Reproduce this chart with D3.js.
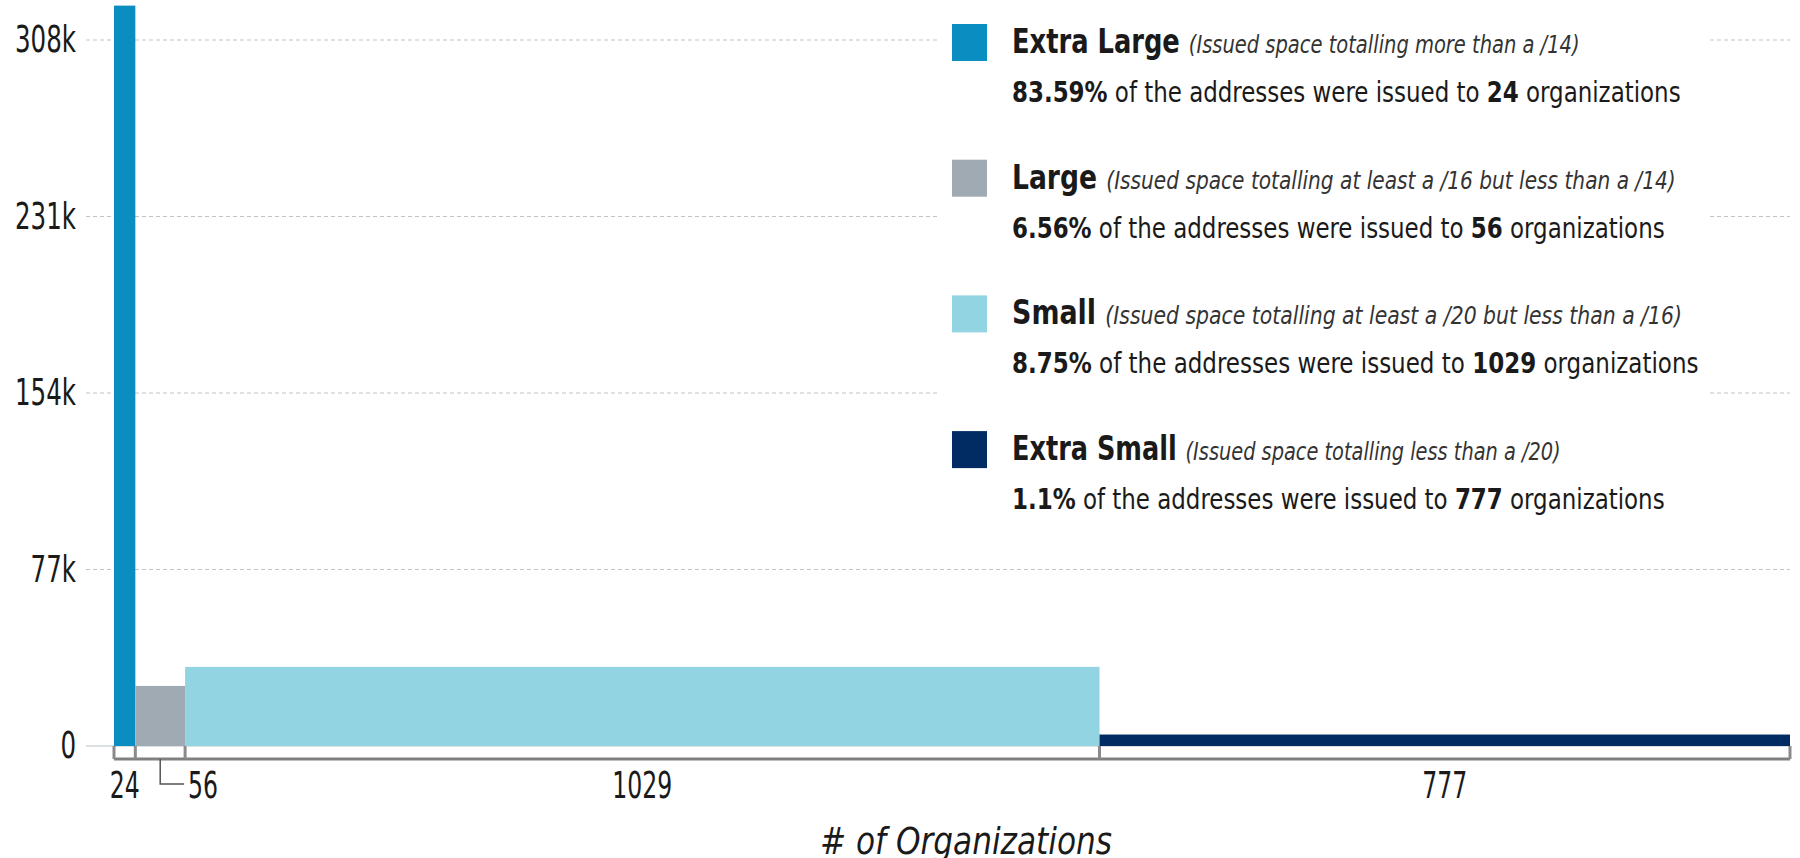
<!DOCTYPE html>
<meta charset="utf-8">
<style>
  body { margin: 0; background: #fff; }
  text { font-family: "DejaVu Sans Condensed", "DejaVu Sans", sans-serif; fill: #1a1a1a; }
  .grid line { stroke: #c4c4c4; stroke-width: 1.2; stroke-dasharray: 4,3; }
</style>
<body>
<script src="https://cdn.jsdelivr.net/npm/d3@7"></script>
<script>
  // data
  var categories = ["Extra Large", "Large", "Small", "Extra Small"];
  var orgCounts = [24, 56, 1029, 777];
  var barValues = [323000, 26200, 34500, 5000];
  var shares = ["83.59%", "6.56%", "8.75%", "1.1%"];
  var descriptions = [
    "(Issued space totalling more than a /14)",
    "(Issued space totalling at least a /16 but less than a /14)",
    "(Issued space totalling at least a /20 but less than a /16)",
    "(Issued space totalling less than a /20)"
  ];
  var yTicks = [0, 77000, 154000, 231000, 308000];
  var colors = ["#0a8dc1", "#a0aab3", "#93d4e2", "#012c63"];

  var width = 1800, height = 858;
  var left = 114, right = 1790, zeroY = 746, topY = 40;

  var svg = d3.select("body").append("svg")
    .attr("width", width)
    .attr("height", height);

  // squeeze a text horizontally so it reads like the condensed face of the original
  function fit(sel, target, tx, ty) {
    sel.attr("x", 0).attr("y", 0);
    var w = sel.node().getComputedTextLength();
    sel.attr("transform", "translate(" + tx + "," + ty + ") scale(" + (target / w) + ",1)");
  }

  // cumulative org counts give the x extent of each bar
  var starts = [];
  var acc = 0;
  orgCounts.forEach(function(c) { starts.push(acc); acc += c; });
  var total = acc;

  var x = d3.scaleLinear().domain([0, total]).range([left, right]);
  var y = d3.scaleLinear().domain([0, 308000]).range([zeroY, topY]);

  var fmt = function(d) { return d === 0 ? "0" : (d / 1000) + "k"; };

  // grid
  var grid = svg.append("g").attr("class", "grid");
  grid.selectAll("line")
    .data(yTicks.filter(function(d) { return d > 0; }))
    .join("line")
    .attr("x1", 86).attr("x2", right)
    .attr("y1", function(d) { return y(d); })
    .attr("y2", function(d) { return y(d); });
  svg.append("line")
    .attr("x1", 86).attr("x2", right)
    .attr("y1", y(0)).attr("y2", y(0))
    .attr("stroke", "#cfd6da").attr("stroke-width", 1.5);

  // y labels
  var yAxis = d3.axisLeft(y).tickValues(yTicks).tickFormat(fmt).tickSize(0).tickPadding(0);
  var yg = svg.append("g").attr("transform", "translate(76,0)").call(yAxis);
  yg.select(".domain").remove();
  yg.attr("font-family", null).attr("font-size", null);
  var yText = yg.selectAll("text").attr("font-size", 37).style("fill", "#1a1a1a");
  var yk = 61 / yText.filter(function(d) { return d === 308000; }).node().getComputedTextLength();
  yText.attr("transform", "scale(" + yk + ",1)");

  // legend backdrop hides the grid behind it
  svg.append("rect")
    .attr("x", 940).attr("y", 0)
    .attr("width", 770).attr("height", 525)
    .attr("fill", "#fff");

  // bars
  svg.selectAll("rect.bar")
    .data(categories)
    .join("rect")
    .attr("class", "bar")
    .attr("x", function(d, i) { return x(starts[i]); })
    .attr("width", function(d, i) { return x(starts[i] + orgCounts[i]) - x(starts[i]); })
    .attr("y", function(d, i) { return y(barValues[i]); })
    .attr("height", function(d, i) { return y(0) - y(barValues[i]); })
    .attr("fill", function(d, i) { return colors[i]; });

  // x axis: segment line with ticks at the boundaries
  var axisY = 759;
  var edges = starts.concat([total]);
  svg.append("line")
    .attr("x1", x(0)).attr("x2", x(total))
    .attr("y1", axisY).attr("y2", axisY)
    .attr("stroke", "#808080").attr("stroke-width", 3);
  svg.selectAll("line.xtick")
    .data(edges)
    .join("line")
    .attr("class", "xtick")
    .attr("x1", function(d) { return x(d); })
    .attr("x2", function(d) { return x(d); })
    .attr("y1", zeroY).attr("y2", axisY)
    .attr("stroke", "#8a8a8a").attr("stroke-width", 3);

  var leaderIndex = 1; // the "56" label sits to the side with a bracket
  var xLabels = svg.append("g");
  var probe = xLabels.append("text").attr("font-size", 37).text("1029");
  var xk = 60 / probe.node().getComputedTextLength();
  probe.remove();
  categories.forEach(function(c, i) {
    var mid = x(starts[i] + orgCounts[i] / 2);
    var t = xLabels.append("text").attr("font-size", 37).text(orgCounts[i]);
    if (i === leaderIndex) {
      var lx = x(starts[i + 1]);
      svg.append("path")
        .attr("d", "M" + mid + "," + axisY + "V784H" + (lx - 1))
        .attr("fill", "none").attr("stroke", "#555").attr("stroke-width", 1.5);
      t.attr("transform", "translate(" + (lx + 3) + ",798) scale(" + xk + ",1)");
    } else {
      t.attr("text-anchor", "middle")
        .attr("transform", "translate(" + mid + ",798) scale(" + xk + ",1)");
    }
  });

  var title = svg.append("text")
    .attr("font-size", 38)
    .attr("font-style", "italic")
    .text("# of Organizations");
  fit(title, 292, 820, 854);

  // legend
  var lineWidths1 = [568, 664, 670, 549];
  var lineWidths2 = [669, 653, 687, 653];
  var legend = svg.selectAll("g.item")
    .data(categories)
    .join("g")
    .attr("class", "item")
    .attr("transform", function(d, i) { return "translate(952," + (24 + i * 135.7) + ")"; });

  legend.append("rect")
    .attr("width", 35).attr("height", 37)
    .attr("fill", function(d, i) { return colors[i]; });

  legend.each(function(d, i) {
    var g = d3.select(this);
    var t1 = g.append("text").attr("font-size", 33);
    t1.append("tspan").attr("font-weight", "bold").text(d + " ");
    t1.append("tspan").attr("font-style", "italic").attr("font-size", 25)
      .style("fill", "#333").text(descriptions[i]);
    fit(t1, lineWidths1[i], 60, 29);
    var t2 = g.append("text").attr("font-size", 29);
    t2.append("tspan").attr("font-weight", "bold").text(shares[i]);
    t2.append("tspan").text(" of the addresses were issued to ");
    t2.append("tspan").attr("font-weight", "bold").text(orgCounts[i]);
    t2.append("tspan").text(" organizations");
    fit(t2, lineWidths2[i], 60, 78);
  });
</script>
</body>
